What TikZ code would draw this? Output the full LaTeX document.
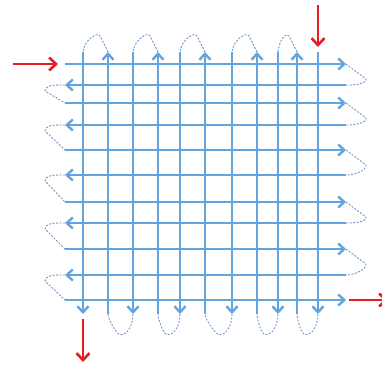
\documentclass[tikz,border=0pt]{standalone}
\usepackage{tikz}
\usetikzlibrary{arrows.meta}
\usepackage{xcolor}
\definecolor{gridblue}{RGB}{99,163,222}
\definecolor{loopblue}{RGB}{115,150,205}
\definecolor{arrowred}{RGB}{228,30,36}

\begin{document}
\begin{tikzpicture}[x=1pt,y=-1pt,
  gridline/.style={line width=2.4pt,color=gridblue},
  flowtip/.style={-{Straight Barb[length=6pt,width=11pt]}},
  turnline/.style={line width=0.9pt,color=loopblue,dash pattern=on 2pt off 1.5pt},
  redarrow/.style={line width=2.6pt,color=arrowred,-{Straight Barb[length=7pt,width=13pt]}}]
\useasboundingbox[fill=white] (0,0) rectangle (382,365);

% ends of the rows and columns
\foreach \y [count=\i] in {64,85,103,125,150,175,202,223,249,275,300} {
  \coordinate (w\i) at (65,\y);
  \coordinate (e\i) at (346,\y);
}
\foreach \x [count=\j] in {83,108,133,158,180,205,232,257,278,297,318} {
  \coordinate (n\j) at (\x,52);
  \coordinate (s\j) at (\x,314);
}

% rows
\foreach \i in {1,3,...,11} \draw[gridline,flowtip] (w\i) -- (e\i);
\foreach \i in {2,4,...,10} \draw[gridline,flowtip] (e\i) -- (w\i);
% columns
\foreach \j in {1,3,...,11} \draw[gridline,flowtip] (n\j) -- (s\j);
\foreach \j in {2,4,...,10} \draw[gridline,flowtip] (s\j) -- (n\j);

% turns
\foreach \i [evaluate=\i as \k using int(\i+1)] in {1,3,...,9}
  \draw[turnline] (e\i) -- ++(20,15) .. controls +(1,5) and +(9,0) .. (e\k);
\foreach \i [evaluate=\i as \k using int(\i+1)] in {2,4,...,10}
  \draw[turnline] (w\i) .. controls +(-13,0) and +(1,-6) .. ++(-20,6) -- (w\k);
\foreach \j [evaluate=\j as \k using int(\j-1)] in {2,4,...,10}
  \draw[turnline] (n\j) -- ++(-8,-16) .. controls +(-2,-5) and +(1,-12) .. (n\k);
\foreach \j [evaluate=\j as \k using int(\j-1)] in {3,5,...,11}
  \draw[turnline] (s\j) .. controls +(0,14) and +(6,3) .. ++(-14,20) .. controls +(-3,-1) and +(0,5) .. (s\k);

% in and out
\coordinate (leftin) at (13,64);
\coordinate (topin) at (318,5);
\coordinate (bottomout) at (83,362);
\coordinate (rightout) at (388,300);
\draw[redarrow,shorten >=7pt] (leftin) -- (w1);
\draw[redarrow,shorten >=5pt] (topin) -- (n11);
\draw[redarrow,shorten <=5pt] (s1) -- (bottomout);
\draw[redarrow,shorten <=3pt] (e11) -- (rightout);
\end{tikzpicture}
\end{document}
